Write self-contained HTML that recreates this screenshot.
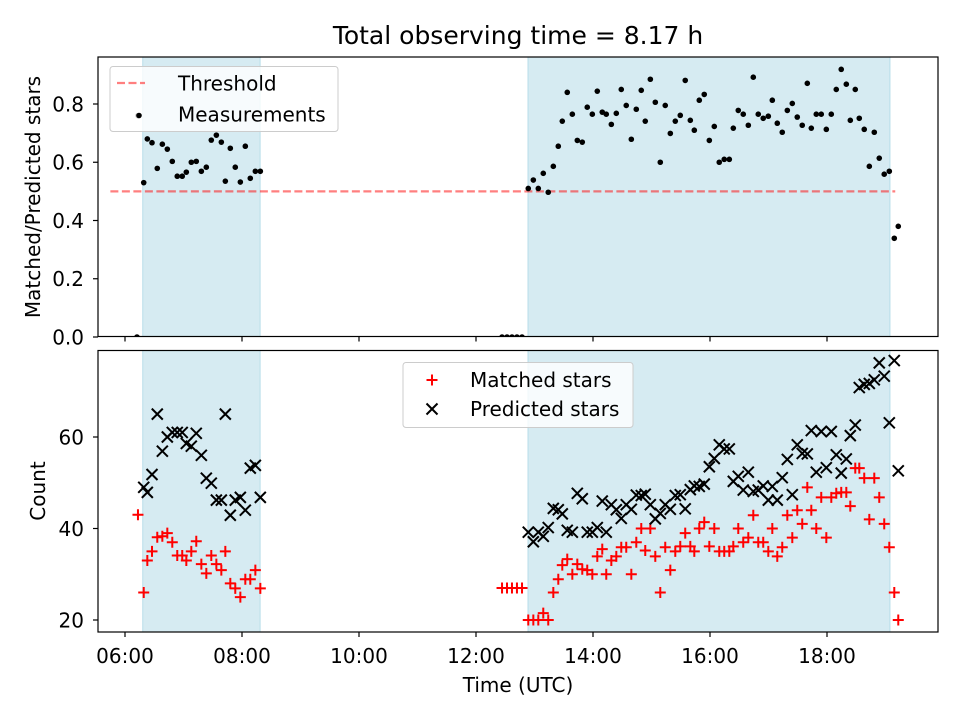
<!DOCTYPE html>
<html><head><meta charset="utf-8">
<style>
html,body{margin:0;padding:0;background:#fff;}
svg{display:block;font-family:"DejaVu Sans","Liberation Sans",sans-serif;}
</style></head>
<body>
<svg id="chart" width="960" height="720" viewBox="0 0 960 720"></svg>
<script>
// minutes after 06:00 UTC for each measurement
const obsMinutes = [12.3,13.3,19.2,22.9,27.7,33.1,38.3,43.4,48.5,53.6,58.7,62.9,68.0,73.1,78.3,83.4,88.5,93.7,98.8,102.9,108.0,113.1,118.3,123.4,128.5,133.7,138.8,
386.7,391.8,396.9,402.0,407.2,
413.6,418.8,423.9,429.0,434.1,439.3,444.4,448.5,453.6,458.8,463.9,469.0,474.1,479.3,484.4,489.5,493.6,498.8,503.9,509.0,514.1,519.3,524.4,529.5,533.6,538.8,543.9,549.0,554.1,559.3,564.4,569.5,574.6,579.8,583.9,589.0,594.1,599.3,604.4,
609.5,614.6,619.8,623.9,629.0,634.1,639.3,644.4,649.5,654.6,659.8,663.9,669.0,674.1,679.3,684.4,689.5,694.6,699.8,703.9,709.0,714.1,719.3,724.4,729.5,734.6,739.8,743.9,749.0,753.1,758.2,763.4,768.5,773.6,778.7,783.9,789.0,793.1];
const ratioValues = [0,0.76,0.53,0.68,0.667,0.579,0.662,0.645,0.603,0.552,0.552,0.566,0.600,0.603,0.569,0.583,0.676,0.693,0.669,0.535,0.648,0.583,0.532,0.655,0.545,0.569,0.569,
0,0,0,0,0,
0.510,0.539,0.510,0.562,0.497,0.586,0.655,0.741,0.840,0.765,0.675,0.669,0.789,0.765,0.844,0.772,0.765,0.730,0.768,0.850,0.795,0.679,0.782,0.847,0.741,0.885,0.806,0.600,0.795,0.699,0.741,0.761,0.881,0.744,0.710,0.813,0.833,0.675,0.723,
0.600,0.610,0.610,0.717,0.778,0.765,0.727,0.892,0.765,0.751,0.758,0.813,0.734,0.703,0.778,0.802,0.755,0.727,0.871,0.717,0.765,0.765,0.713,0.765,0.850,0.919,0.868,0.744,0.850,0.751,0.713,0.586,0.703,0.614,0.559,0.569,0.339,0.380];
const matchedValues = [null,43,26,33,35,38.1,38.3,39,37,34.1,34.1,33,35,37.2,32.2,30.2,34.1,32.2,30.9,35,28,26.9,25,28.9,28.9,30.9,26.9,
27,27,27,27,27,
20,20,20,21.5,20,26,28.9,32,33.3,30,32.2,31.1,30.9,30,33.9,35.5,30,33,33.9,35.9,35.9,30,37,40,35.2,40,33.9,26,35.9,30.9,35,36.1,39,36.1,35,40,41.4,36.1,40,
35,35,35,36.1,40,37,38,42.9,37,37,35,40,33.9,35.9,42.9,38,44,41,49,44,40,46.8,38,46.8,47.7,47.9,47.9,44.9,53.2,53.2,51,42,51,46.8,41,35.9,26,20];
const predictedValues = [null,null,49,47.9,51.8,65,56.9,60,61,61,61,58.6,58,60.8,56,51,49.9,46.2,46.2,65,42.9,46.2,46.8,44,53.2,53.8,46.8,
null,null,null,null,null,
39.2,37.1,39.2,38.3,40.2,44.4,44.1,43.2,39.6,39.2,47.7,46.5,39.2,39.2,40.2,46,39.2,45.2,44.1,42.2,45.2,44.2,47.3,47.2,47.5,45.2,42.1,43.3,45.2,44.2,47.2,47.4,44.3,48.5,49.3,49.2,49.7,53.5,55.3,
58.3,57.4,57.4,50.3,51.4,48.4,52.3,48.1,48.4,49.3,46.2,49.2,46.2,51.1,55.1,47.4,58.3,56.4,56.3,61.4,52.3,61.2,53.3,61.2,56.1,52.1,55.2,60.3,62.6,70.8,71.5,71.7,72.5,76.2,73.3,63.1,76.7,52.6];
const shadeIntervals = [[18.2,138.6],[413.3,784.6]];
const thresholdValue = 0.5;
const thresholdSpan = [-15,790];
const xTickMinutes = [0,120,240,360,480,600,720];
const xTickLabels = ["06:00","08:00","10:00","12:00","14:00","16:00","18:00"];
const topYTicks = [0,0.2,0.4,0.6,0.8];
const topYLabels = ["0.0","0.2","0.4","0.6","0.8"];
const botYTicks = [20,40,60];
const botYLabels = ["20","40","60"];

const NS = "http://www.w3.org/2000/svg";
const svgEl = document.getElementById("chart");
function mk(tag, attrs, parent){const e=document.createElementNS(NS,tag);for(const k in attrs)e.setAttribute(k,attrs[k]);(parent||svgEl).appendChild(e);return e;}

const L=98, R=938;
const FS=20;
const topAx={t:57,b:336.5}, botAx={t:350.5,b:632};
const X = m => 125 + m*58.5/60;
const Ytop = v => 337 - v*291.25;
const Ybot = v => 620 - (v-20)*4.575;

function drawPanel(ax, yf, yt, yl, name){
  const g = mk("g",{});
  
  
  const clipId = name+"-clip";
  const cp = mk("clipPath",{id:clipId},g); mk("rect",{x:L,y:ax.t,width:R-L,height:ax.b-ax.t},cp);
  const plot = mk("g",{"clip-path":"url(#"+clipId+")"},g);
  shadeIntervals.forEach((s,i)=>{
    const r = mk("rect",{x:X(s[0]),y:ax.t,width:X(s[1])-X(s[0]),height:ax.b-ax.t,fill:"#add8e6","fill-opacity":0.5,stroke:"#add8e6","stroke-opacity":0.8},plot);
    
    
  });
  xTickMinutes.forEach((m)=>{
    mk("line",{x1:X(m),x2:X(m),y1:ax.b,y2:ax.b+5,stroke:"#000","stroke-width":1.2},g);
  });
  yt.forEach((v,i)=>{
    mk("line",{x1:L-5,x2:L,y1:yf(v),y2:yf(v),stroke:"#000","stroke-width":1.2},g);
    const t = mk("text",{x:L-14,y:yf(v)+7.3,"text-anchor":"end","font-size":FS,fill:"#000"},g);
    t.textContent = yl[i];
    
    
  });
  return {g,plot};
}

const ratioPanel = drawPanel(topAx, Ytop, topYTicks, topYLabels, "ratio-panel");
const countPanel = drawPanel(botAx, Ybot, botYTicks, botYLabels, "count-panel");

const th = mk("line",{x1:X(thresholdSpan[0]),x2:X(thresholdSpan[1]),y1:Ytop(thresholdValue),y2:Ytop(thresholdValue),stroke:"#ff0000","stroke-opacity":0.5,"stroke-width":2.2,"stroke-dasharray":"8,3.5"},ratioPanel.plot);



obsMinutes.forEach((m,i)=>{
  const c = mk("circle",{cx:X(m),cy:Ytop(ratioValues[i]),r:2.8,fill:"#000"},ratioPanel.plot);
  
  
});

function plus(cx,cy,s,col,parent){return mk("path",{d:`M${cx-s},${cy}H${cx+s}M${cx},${cy-s}V${cy+s}`,stroke:col,"stroke-width":2,fill:"none"},parent);}
function cross(cx,cy,s,col,parent){return mk("path",{d:`M${cx-s},${cy-s}L${cx+s},${cy+s}M${cx-s},${cy+s}L${cx+s},${cy-s}`,stroke:col,"stroke-width":2,fill:"none"},parent);}
obsMinutes.forEach((m,i)=>{
  if(matchedValues[i]!==null){
    const p = plus(X(m),Ybot(matchedValues[i]),5.5,"#ff0000",countPanel.plot);
    
    
  }
});
obsMinutes.forEach((m,i)=>{
  if(predictedValues[i]!==null){
    const p = cross(X(m),Ybot(predictedValues[i]),5.5,"#000",countPanel.plot);
    
    
  }
});

[topAx,botAx].forEach((ax,i)=>{
  const f = mk("rect",{x:L,y:ax.t,width:R-L,height:ax.b-ax.t,fill:"none",stroke:"#000","stroke-width":1.2});
  
  
});

xTickMinutes.forEach((m,i)=>{
  const t = mk("text",{x:X(m),y:663,"text-anchor":"middle","font-size":FS,fill:"#000"});
  t.textContent = xTickLabels[i];
  
  
});

let t = mk("text",{x:518,y:44,"text-anchor":"middle","font-size":25,fill:"#000"});
t.textContent = "Total observing time = 8.17 h";


t = mk("text",{x:518,y:692,"text-anchor":"middle","font-size":FS,fill:"#000"});
t.textContent = "Time (UTC)";


t = mk("text",{x:0,y:0,"text-anchor":"middle","font-size":FS,fill:"#000",transform:"translate(40,197) rotate(-90)"});
t.textContent = "Matched/Predicted stars";


t = mk("text",{x:0,y:0,"text-anchor":"middle","font-size":FS,fill:"#000",transform:"translate(45,491) rotate(-90)"});
t.textContent = "Count";



let lg = mk("g",{});


mk("rect",{x:110,y:66.5,width:228,height:65,rx:3,fill:"#fff","fill-opacity":0.8,stroke:"#ccc"},lg);
mk("line",{x1:117,x2:145,y1:83,y2:83,stroke:"#ff0000","stroke-opacity":0.5,"stroke-width":2.2,"stroke-dasharray":"8,3.5"},lg);
t = mk("text",{x:178,y:90.5,"font-size":FS,fill:"#000"},lg); t.textContent="Threshold";


mk("circle",{cx:139,cy:115.5,r:2.8,fill:"#000"},lg);
t = mk("text",{x:178,y:121.5,"font-size":FS,fill:"#000"},lg); t.textContent="Measurements";



lg = mk("g",{});


mk("rect",{x:403,y:362.5,width:230,height:65,rx:3,fill:"#fff","fill-opacity":0.8,stroke:"#ccc"},lg);
plus(432,380,5.5,"#ff0000",lg);
t = mk("text",{x:470,y:387,"font-size":FS,fill:"#000"},lg); t.textContent="Matched stars";


cross(432,409,5.5,"#000",lg);
t = mk("text",{x:470,y:416,"font-size":FS,fill:"#000"},lg); t.textContent="Predicted stars";


</script>
</body></html>
